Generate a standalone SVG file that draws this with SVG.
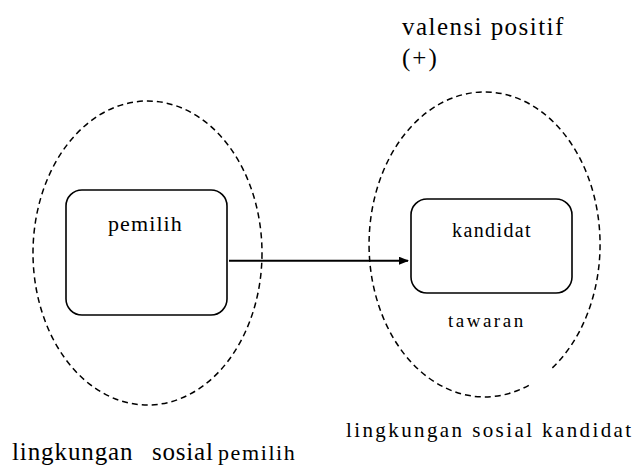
<svg xmlns="http://www.w3.org/2000/svg" width="635" height="466" viewBox="0 0 635 466">
<style>
svg text, g text, text{font-family:'Liberation Serif','Times New Roman',serif !important;fill:#000}
.env{fill:none;stroke:#000;stroke-width:1.5;stroke-dasharray:6 4}
.box{fill:#fff;stroke:#000;stroke-width:1.6}
.conn{stroke:#000;stroke-width:2;fill:none}
</style>
<defs>
<marker id="arr" markerWidth="10" markerHeight="8" refX="9" refY="4" orient="auto" markerUnits="userSpaceOnUse">
<path d="M0,0 L10,4 L0,8 z" fill="#000"/>
</marker>
</defs>
<rect width="635" height="466" fill="#fff"/>
<g id="env-pemilih">
<ellipse class="env" cx="147.5" cy="253" rx="114.5" ry="152"/>
<text x="12" y="460" font-size="25" letter-spacing="0.9" style="font-family:'Liberation Serif',serif !important">lingkungan</text>
<text x="152" y="460" font-size="25" letter-spacing="0.8" style="font-family:'Liberation Serif',serif !important">sosial</text>
<text x="218" y="460" font-size="22" letter-spacing="1.6" style="font-family:'Liberation Serif',serif !important">pemilih</text>
</g>
<g id="env-kandidat">
<path class="env" d="M528.8,385.3 A115.5,152.5 0 1 1 551.4,368.8"/>
<text x="346" y="437" font-size="21" letter-spacing="2.4" style="font-family:'Liberation Serif',serif !important">lingkungan sosial kandidat</text>
<text x="448" y="327" font-size="19" letter-spacing="2.5" style="font-family:'Liberation Serif',serif !important">tawaran</text>
</g>
<g id="valensi">
<text x="402" y="35" font-size="25" letter-spacing="1.45" style="font-family:'Liberation Serif',serif !important">valensi positif</text>
<text x="402" y="66" font-size="25" letter-spacing="2" style="font-family:'Liberation Serif',serif !important">(+)</text>
</g>
<g id="pemilih">
<rect class="box" x="66" y="190" width="161" height="125" rx="16"/>
<text x="108" y="231" font-size="22" letter-spacing="1.1" style="font-family:'Liberation Serif',serif !important">pemilih</text>
</g>
<g id="kandidat">
<rect class="box" x="411" y="199" width="161" height="94" rx="16"/>
<text x="452" y="237" font-size="20" letter-spacing="1.4" style="font-family:'Liberation Serif',serif !important">kandidat</text>
</g>
<g id="connectors">
<line class="conn" x1="229" y1="260.7" x2="408" y2="260.7" marker-end="url(#arr)"/>
</g>
</svg>
